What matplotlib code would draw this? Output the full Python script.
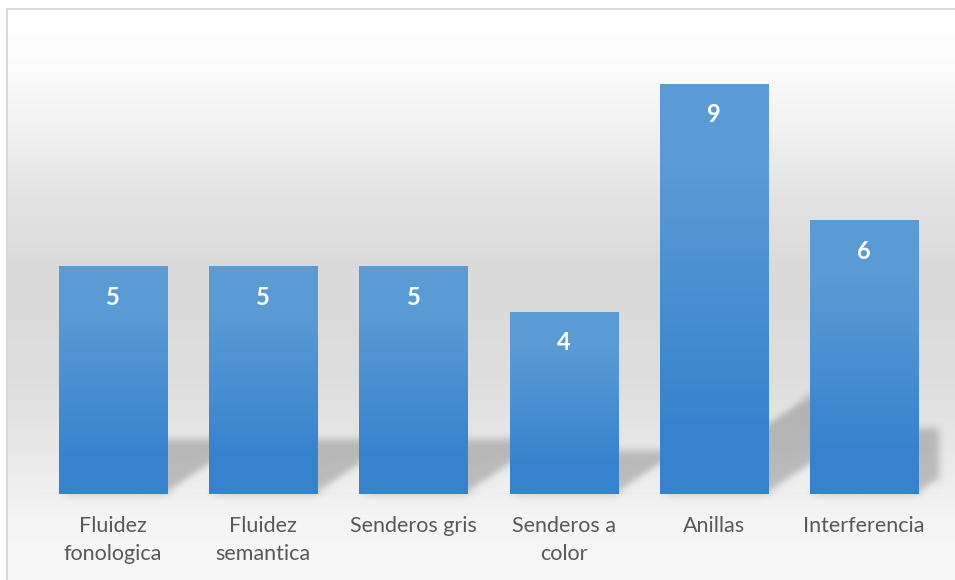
import numpy as np
import matplotlib
matplotlib.use("Agg")
import matplotlib.pyplot as plt
from matplotlib.colors import LinearSegmentedColormap, to_rgb
from matplotlib.patches import Polygon, Rectangle

# ---- data -------------------------------------------------------------
categories = ["Fluidez\nfonologica", "Fluidez\nsemantica", "Senderos gris",
              "Senderos a\ncolor", "Anillas", "Interferencia"]
values = [5, 5, 5, 4, 9, 6]

W, H, DPI = 955, 580, 100
plt.rcParams["font.family"] = ["Lato", "DejaVu Sans"]

fig = plt.figure(figsize=(W / DPI, H / DPI), dpi=DPI)

# ---- chart-area background: soft vertical grey gradient --------------
bg_ax = fig.add_axes([0, 0, 1, 1], zorder=0)
bg_ax.set_axis_off()
stops_y = np.array([0, 10, 60, 130, 200, 260, 300, 380, 440, 494, 520, 580])
stops_v = np.array([255, 255, 253, 241, 227, 219, 218, 222, 231, 240, 245, 248])
rows = np.interp(np.arange(H), stops_y, stops_v) / 255.0
bg = np.repeat(rows[:, None], W, axis=1)
bg[:9, :] = 1.0
bg[:, :7] = 1.0
bg_ax.imshow(np.dstack([bg, bg, bg]), extent=(0, W, H, 0), aspect="auto",
             interpolation="bilinear")
bg_ax.set_xlim(0, W)
bg_ax.set_ylim(H, 0)
# chart border (light grey)
bg_ax.add_patch(Rectangle((7, 9), W + 10, H + 10, fill=False,
                          edgecolor="#d9d9d9", linewidth=1.4))

# ---- plot area --------------------------------------------------------
left, right, top, base = 38, 939, 38, 494
ax = fig.add_axes([left / W, 1 - base / H, (right - left) / W, (base - top) / H],
                  zorder=1)
ax.patch.set_alpha(0)
n = len(values)
x = np.arange(n)
for s in ax.spines.values():
    s.set_visible(False)
ax.set_yticks([])
ax.set_xticks(x)
ax.set_xticklabels(categories, fontsize=15.5, color="#595959", linespacing=1.5)
ax.tick_params(axis="x", length=0, pad=16)
ax.axhline(0, color="#e0e0e0", linewidth=1.0, zorder=1)


# soft drop shadow behind each bar (sheared projection, blurred)
def gaussian_blur(img, dpi, sigma=4.0):
    r = int(3 * sigma)
    k = np.exp(-0.5 * (np.arange(-r, r + 1) / sigma) ** 2)
    k /= k.sum()
    pad = r
    out = np.pad(img, ((pad, pad), (pad, pad), (0, 0)), mode="constant")
    for c in range(out.shape[2]):
        ch = out[:, :, c]
        ch = np.apply_along_axis(lambda m: np.convolve(m, k, mode="same"), 0, ch)
        ch = np.apply_along_axis(lambda m: np.convolve(m, k, mode="same"), 1, ch)
        out[:, :, c] = ch
    return out, -pad, -pad


width = 0.72
shadow_rise = 0.24   # shadow height relative to bar height
shadow_skew = 0.1094  # horizontal shift (categories) per value unit
for xi, v in zip(x, values):
    x0, x1 = xi - width / 2, xi + width / 2
    sh = Polygon([(x0, 0), (x1, 0),
                  (x1 + shadow_skew * v, shadow_rise * v),
                  (x0 + shadow_skew * v, shadow_rise * v)],
                 closed=True, facecolor=(0, 0, 0, 0.21), edgecolor="none",
                 zorder=2)
    sh.set_agg_filter(gaussian_blur)
    ax.add_patch(sh)

# bars with a light-to-dark vertical fill
light, dark = to_rgb("#5b9bd5"), to_rgb("#3682cd")
bar_cmap = LinearSegmentedColormap.from_list(
    "barfill", [(0.0, dark), (0.15, dark), (0.8, light), (1.0, light)])
bars = ax.bar(x, values, width=width, color="none", edgecolor="none", zorder=3)
for rect, v in zip(bars, values):
    grad = np.linspace(0, 1, 256)[:, None]
    im = ax.imshow(grad, cmap=bar_cmap, origin="lower", aspect="auto",
                   extent=(rect.get_x(), rect.get_x() + rect.get_width(), 0, v),
                   zorder=3, interpolation="bilinear")
    im.set_clip_path(rect)
    ax.annotate(f"{v}", xy=(rect.get_x() + rect.get_width() / 2, v),
                xytext=(0, -22.5), textcoords="offset points",
                ha="center", va="center", color="white",
                fontsize=17, fontweight="bold", zorder=4)

ax.set_xlim(-0.5, n - 0.5)
ax.set_ylim(0, 10)

fig.savefig("out.png", dpi=DPI)
